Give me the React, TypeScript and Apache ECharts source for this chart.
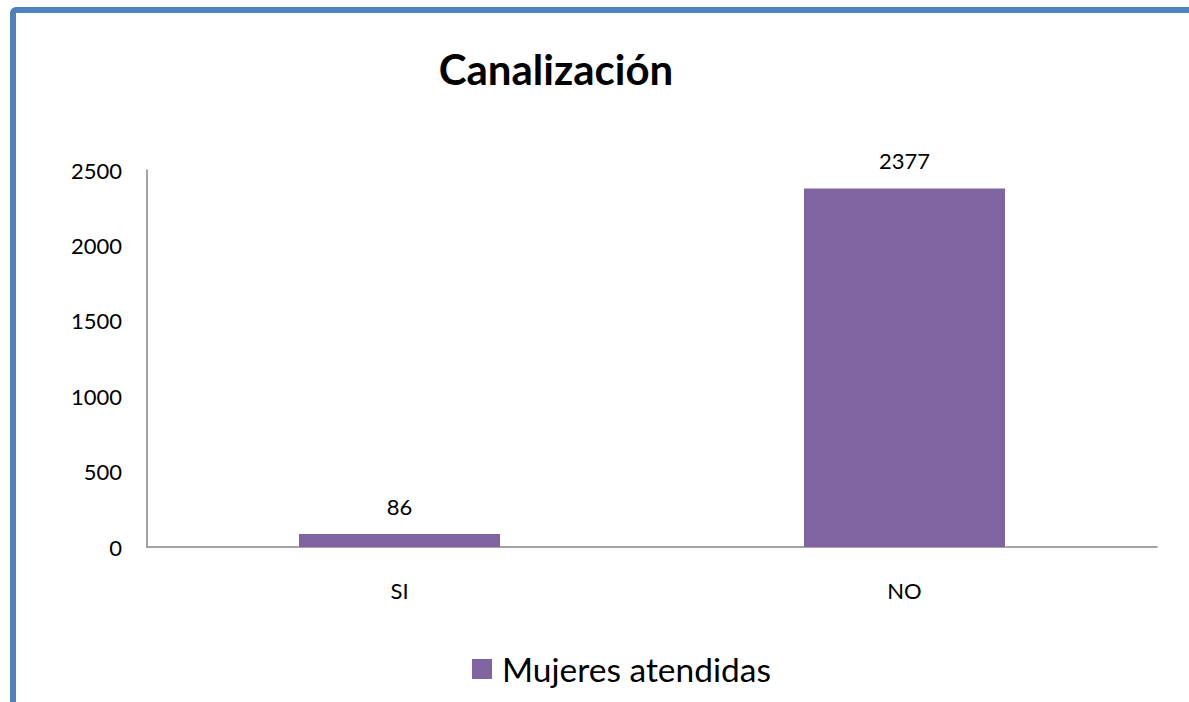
import React, { useEffect, useRef } from "react";
import * as echarts from "echarts";

const categories = ["SI", "NO"];
const seriesName = "Mujeres atendidas";
const values = [86, 2377];
const titleText = "Canalización";

export default function App() {
  const ref = useRef<HTMLDivElement>(null);
  useEffect(() => {
    const chart = echarts.init(ref.current!, undefined, { renderer: "svg" });
    chart.setOption({
      animation: false,
      backgroundColor: "#ffffff",
      textStyle: { fontFamily: "Lato" },
      title: {
        text: titleText,
        left: 551,
        top: 43,
        textAlign: "center",
        textStyle: { fontSize: 42, fontWeight: "bold", color: "#000", fontFamily: "Lato" },
      },
      graphic: [
        {
          type: "rect",
          shape: { x: 13, y: 10, width: 1300, height: 900, r: 3 },
          style: { fill: "none", stroke: "#4f81bd", lineWidth: 6 },
          silent: true,
        },
      ],
      legend: {
        bottom: 11,
        left: 467,
        itemWidth: 20,
        itemHeight: 20,
        icon: "rect",
        textStyle: { fontSize: 33.5, color: "#000", fontFamily: "Lato", padding: [0, 0, 0, 5] },
        data: [seriesName],
      },
      grid: { left: 147, right: 32, top: 170, bottom: 155 },
      xAxis: {
        type: "category",
        data: categories,
        axisLine: { lineStyle: { color: "#868686", width: 1.5 } },
        axisTick: { show: false },
        axisLabel: { fontSize: 22, color: "#000", margin: 32 },
      },
      yAxis: {
        type: "value",
        min: 0,
        max: 2500,
        interval: 500,
        axisLine: { show: true, lineStyle: { color: "#868686", width: 1.5 } },
        axisTick: { show: false },
        splitLine: { show: false },
        axisLabel: { fontSize: 22, color: "#000", margin: 25, formatter: (v: number) => String(v) },
      },
      series: [
        {
          type: "bar",
          name: seriesName,
          data: values,
          barWidth: 201,
          itemStyle: { color: "#8064a2" },
          label: { show: true, position: "top", distance: 17, fontSize: 22, color: "#000" },
        },
      ],
    });
    return () => chart.dispose();
  }, []);
  return (
    <div style={{ position: "fixed", left: 0, top: 0, width: 1189, height: 702 }}>
      <div ref={ref} style={{ width: 1189, height: 702 }} />
    </div>
  );
}
